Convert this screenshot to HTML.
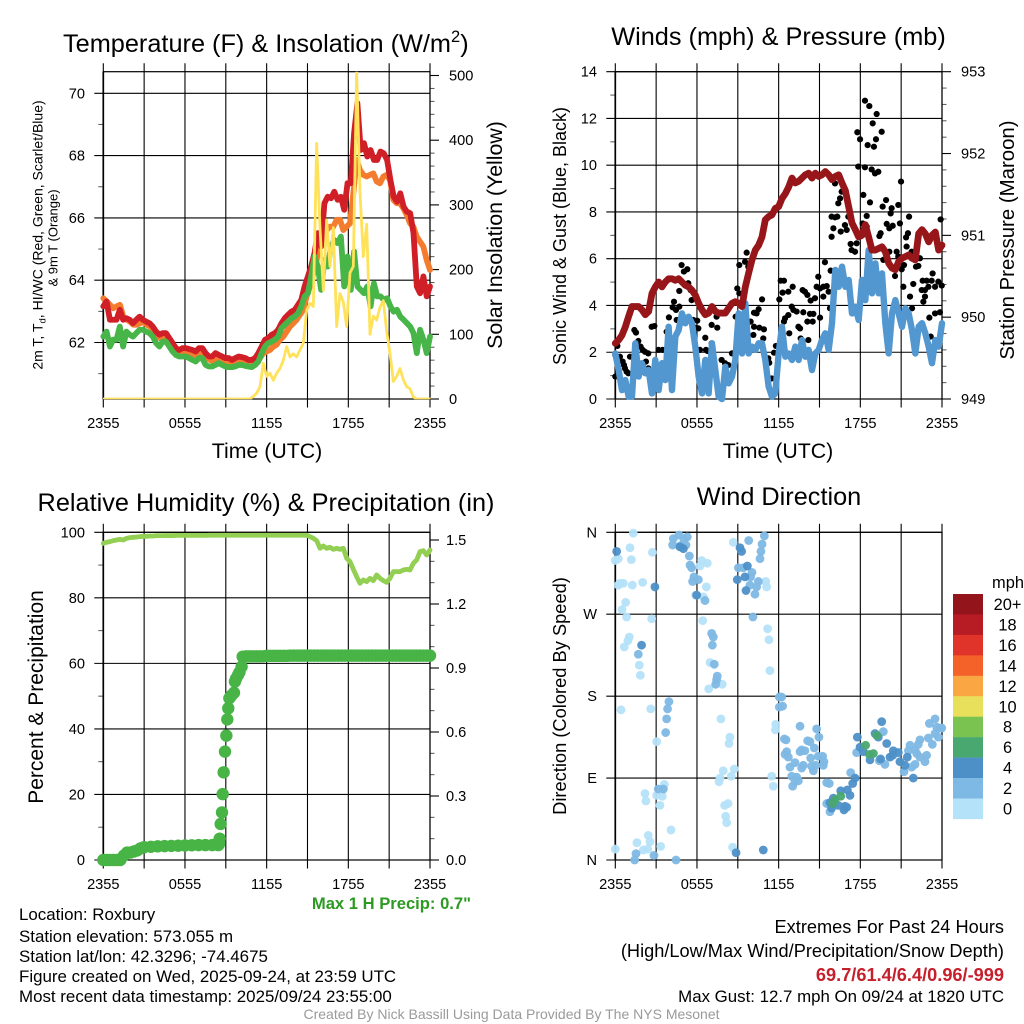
<!DOCTYPE html>
<html lang="en">
<head>
<meta charset="utf-8">
<title>Roxbury Mesonet Meteogram</title>
<style>
html,body{margin:0;padding:0;background:#fff;}
svg{display:block;font-family:"Liberation Sans",Arial,sans-serif;fill:#000;}
text{white-space:pre;}
</style>
</head>
<body>
<svg id="chart" xmlns="http://www.w3.org/2000/svg" width="1024" height="1024" viewBox="0 0 1024 1024">
<rect x="0" y="0" width="1024" height="1024" fill="#fff"/>
<defs>
<clipPath id="clip-temp"><rect x="103" y="71.7" width="327.5" height="327.5"/></clipPath>
</defs>
<g id="p1"></g>
<g id="p2"></g>
<g id="p3"></g>
<g id="p4"></g>
<g id="colorbar"></g>

<text x="63" y="52" font-size="25.3">Temperature (F) &amp; Insolation (W/m<tspan font-size="16.5" dy="-10">2</tspan><tspan dy="10">)</tspan></text>
<text x="778.5" y="45" font-size="25.3" text-anchor="middle">Winds (mph) &amp; Pressure (mb)</text>
<text x="266" y="511" font-size="25.3" text-anchor="middle">Relative Humidity (%) &amp; Precipitation (in)</text>
<text x="779" y="505" font-size="25.3" text-anchor="middle">Wind Direction</text>

<text x="267" y="458" font-size="21.3" text-anchor="middle">Time (UTC)</text>
<text x="778" y="458" font-size="21.3" text-anchor="middle">Time (UTC)</text>

<text transform="translate(42.5,235) rotate(-90)" font-size="14" text-anchor="middle">2m T, T<tspan font-size="9.5" dy="3">d</tspan><tspan dy="-3">, HI/WC (Red, Green, Scarlet/Blue)</tspan></text>
<text transform="translate(57.5,238) rotate(-90)" font-size="13" text-anchor="middle">&amp; 9m T (Orange)</text>
<text transform="translate(502,235) rotate(-90)" font-size="21.3" text-anchor="middle">Solar Insolation (Yellow)</text>
<text transform="translate(566,236) rotate(-90)" font-size="18" text-anchor="middle">Sonic Wind &amp; Gust (Blue, Black)</text>
<text transform="translate(1014,240) rotate(-90)" font-size="20.4" text-anchor="middle">Station Pressure (Maroon)</text>
<text transform="translate(43,697) rotate(-90)" font-size="21" text-anchor="middle">Percent &amp; Precipitation</text>
<text transform="translate(566,696) rotate(-90)" font-size="18.3" text-anchor="middle">Direction (Colored By Speed)</text>

<text x="471" y="909" font-size="16.6" font-weight="bold" fill="#2c9a22" text-anchor="end">Max 1 H Precip: 0.7"</text>

<text x="19" y="920" font-size="16.9">Location: Roxbury</text>
<text x="19" y="942" font-size="16.9">Station elevation: 573.055 m</text>
<text x="19" y="962" font-size="16.9">Station lat/lon: 42.3296; -74.4675</text>
<text x="19" y="982" font-size="16.9">Figure created on Wed, 2025-09-24, at 23:59 UTC</text>
<text x="19" y="1002" font-size="16.9">Most recent data timestamp: 2025/09/24 23:55:00</text>

<text x="1004" y="933" font-size="18.2" text-anchor="end">Extremes For Past 24 Hours</text>
<text x="1004" y="957" font-size="18.2" text-anchor="end">(High/Low/Max Wind/Precipitation/Snow Depth)</text>
<text x="1004" y="981" font-size="18.2" font-weight="bold" fill="#c5202c" text-anchor="end">69.7/61.4/6.4/0.96/-999</text>
<text x="1004" y="1002" font-size="16.85" text-anchor="end">Max Gust: 12.7 mph On 09/24 at 1820 UTC</text>
<text x="511.5" y="1019" font-size="14" fill="#9a9a9a" text-anchor="middle">Created By Nick Bassill Using Data Provided By The NYS Mesonet</text>
</svg>

<script>
/* ---------- shared axis data ---------- */
const timeGridHours = [0,3,6,9,12,15,18,21,24];
const timeTickHours = [0,6,12,18,24];
const timeTickLabels = ['2355','0555','1155','1755','2355'];

/* ---------- temperature panel ---------- */
const tempTicks = [62,64,66,68,70];
const tempMinorTicks = [61,63,65,67,69];
const solarTicks = [0,100,200,300,400,500];
const solarMinorTicks = [20,40,60,80,120,140,160,180,220,240,260,280,320,340,360,380,420,440,460,480];
const temp9m = [63.42,63.32,63.21,63.10,63.16,63.21,62.83,62.73,62.67,62.57,62.57,62.62,62.67,62.57,62.51,62.41,62.25,62.14,62.19,62.19,62.03,61.93,61.76,61.66,61.66,61.66,61.64,61.60,61.60,61.66,61.66,61.50,61.44,61.39,61.44,61.44,61.39,61.39,61.36,61.34,61.39,61.39,61.36,61.34,61.32,61.32,61.39,61.50,61.66,61.71,61.76,61.87,61.93,62.09,62.19,62.35,62.51,62.62,62.73,62.89,63.05,63.48,63.80,64.22,64.65,65.40,65.29,65.61,65.72,65.72,65.94,65.94,65.61,65.72,65.83,66.79,67.86,67.54,67.38,67.33,67.38,67.43,67.17,67.11,67.33,67.38,67.22,66.58,66.47,66.47,66.31,66.10,65.83,65.72,65.40,65.24,65.08,64.65,64.33];
const temp2m = [63.16,63.32,62.73,62.73,62.73,63.05,62.73,62.78,62.73,62.62,62.73,62.83,62.73,62.67,62.62,62.51,62.35,62.25,62.30,62.30,62.14,61.98,61.82,61.76,61.82,61.82,61.79,61.76,61.71,61.82,61.82,61.66,61.55,61.55,61.66,61.60,61.55,61.50,61.50,61.44,61.50,61.55,61.53,61.50,61.44,61.44,61.50,61.66,61.87,62.09,62.14,62.25,62.30,62.41,62.62,62.78,62.89,62.99,63.05,63.21,63.37,63.80,64.12,64.44,64.87,65.51,65.08,66.47,66.68,66.63,66.84,66.58,66.68,66.26,67.11,67.11,68.72,69.68,68.18,68.40,67.97,68.18,67.86,67.86,68.13,68.07,67.86,67.22,66.68,66.52,66.79,66.36,66.20,66.15,65.51,63.80,63.58,64.12,63.48,63.80];
const tempDewpoint = [62.19,62.35,61.87,62.09,62.09,62.51,61.87,62.35,62.25,62.19,62.30,62.41,62.41,62.35,62.30,62.19,61.98,61.87,62.03,62.03,61.87,61.71,61.60,61.55,61.55,61.55,61.50,61.44,61.39,61.50,61.50,61.28,61.23,61.23,61.28,61.34,61.28,61.23,61.21,61.21,61.23,61.28,61.28,61.25,61.23,61.21,61.28,61.39,61.66,61.87,61.98,62.03,62.09,62.19,62.46,62.57,62.67,62.78,62.83,62.94,63.16,63.48,63.58,64.12,64.76,64.44,63.69,64.65,64.44,65.08,65.29,65.19,65.40,63.80,64.76,63.69,64.92,63.80,63.69,63.58,63.80,63.16,63.90,63.48,63.48,63.37,63.42,63.16,62.99,63.05,62.83,62.73,62.62,62.51,62.30,61.66,62.41,62.09,61.66,62.19];
const solarWatts = [0,0,0,0,0,0,0,0,0,0,0,0,0,0,0,0,0,0,0,0,0,0,0,0,0,0,0,0,0,0,0,0,0,0,0,0,0,0,0,0,0,0,0,0,0,4,9,19,55,35,40,29,40,47,60,81,65,70,65,76,86,137,148,143,395,265,168,277,205,265,112,163,150,112,195,205,505,320,220,270,100,128,122,142,152,105,70,27,35,47,30,19,16,3,0,0,0,0,0];

/* ---------- winds panel ---------- */
const windTicks = [0,2,4,6,8,10,12,14];
const windMinorTicks = [1,3,5,7,9,11,13];
const pressureTicks = [949,950,951,952,953];
const pressureMinorTicks = [949.2,949.4,949.6,949.8,950.2,950.4,950.6,950.8,951.2,951.4,951.6,951.8,952.2,952.4,952.6,952.8];
const gustHours = [0,0.15,0,0.34,0.54,0.64,0.71,0.83,0.96,1.08,1.40,1.52,1.69,1.86,2.01,2.18,2.42,2.25,2.42,2.67,2.87,3.18,3.48,3.77,3.94,4.31,4.21,4.46,4.70,4.51,4.70,4.87,5.04,5.29,5.36,5.53,5.61,5.73,6.02,5.93,6.10,6.61,6.22,6.66,6.78,7.08,7.49,7.44,7.08,7.81,8.06,8.30,8.57,8.96,9.11,8.84,9.11,9.53,9.65,9.77,9.94,10.19,10.53,10.38,10.78,10.19,10.58,10.92,10.14,10.87,11.80,11.66,11.24,11.31,11.49,12.05,12.15,12.39,12.29,12.71,13.03,12.71,12.96,13.08,13.32,12.47,12.39,13.45,13.57,12.78,13.62,13.76,13.93,14.11,13.81,14.35,14.67,14.30,14.55,14.11,14.50,15.04,14.18,14.79,14.91,15.04,15.28,15.53,15.40,15.28,15.67,15.77,15.82,16.14,16.63,16.51,16.38,15.89,16.14,16.31,16.02,16.56,15.89,16.87,17.12,17.00,17.29,17.73,17.36,17.61,17.85,18.22,17.78,17.98,18.34,18.66,19.20,18.91,19.57,19.15,18.54,19.00,18.34,18.83,19.08,19.32,18.71,18.47,18.17,18.47,19.64,19.89,20.30,20.23,20.79,19.94,20.13,20.38,20.91,19.49,19.40,20.99,21.58,21.50,21.36,21.40,21.77,20.67,20.79,19.69,20.13,21.21,21.04,20.55,22.09,22.26,22.38,23.31,22.58,22.87,23.24,23.73,23.98,23.90,21.16,21.89,22.51,22.75,23.00,23.49,21.65,22.75,22.63,21.80,23.07,23.49,23.85,23.17];
const gustMph = [0.96,2.27,1.88,1.81,1.60,1.45,1.31,1.17,1.10,1.81,2.95,2.84,2.48,2.24,2.10,2.02,1.95,1.60,1.31,3.09,3.12,2.10,2.10,2.88,3.49,4.16,3.92,3.81,3.95,3.38,4.62,5.73,5.45,5.55,4.95,4.66,4.23,3.38,3.35,3.05,3.02,2.62,2.10,2.10,2.05,3.17,3.05,3.52,2.38,1.67,1.53,1.45,1.95,4.73,4.52,3.52,5.73,5.87,6.26,5.66,3.31,3.69,3.84,3.66,4.26,3.09,3.05,2.98,2.74,2.59,2.27,1.98,1.74,1.55,0.88,4.26,5.06,5.06,4.55,4.59,4.80,3.59,3.95,3.81,3.74,3.45,3.31,3.09,3.02,2.81,2.59,4.66,4.59,4.45,3.71,4.21,4.31,3.64,3.64,3.31,3.31,3.48,2.52,4.80,5.23,4.73,4.80,4.83,5.85,4.38,4.59,3.88,5.49,9.22,8.87,8.58,8.37,7.80,7.77,7.80,7.30,7.16,6.94,7.44,7.80,7.23,6.63,6.66,6.37,6.30,9.94,8.73,11.41,11.11,12.76,12.53,12.19,11.79,11.43,11.11,10.86,10.79,9.91,9.82,9.65,9.72,8.41,7.83,7.51,7.37,8.23,8.51,8.16,7.94,8.30,7.49,7.30,7.41,7.51,7.09,6.97,9.30,7.80,7.09,6.91,6.52,6.30,6.30,6.09,5.95,6.30,5.73,5.55,5.26,5.66,5.69,6.02,5.37,5.06,5.06,5.06,5.02,4.85,7.68,4.80,4.92,4.66,4.66,4.80,4.80,4.38,4.38,4.16,3.88,3.48,3.66,3.71,2.67];
const sonicWindMph = [1.95,1.24,0.38,0.81,0.10,0.10,2.38,0.96,1.53,1.10,1.24,0.24,1.67,0.38,1.53,0.81,3.09,0.38,2.67,2.95,3.66,3.24,3.52,3.24,2.24,0.96,0.24,1.67,0.24,2.38,1.24,0.10,0,1.38,0.67,0.96,1.67,3.66,1.95,4.09,1.95,2.24,2.10,2.38,2.38,1.67,0.53,0.10,0.24,1.95,3.09,1.81,1.95,1.67,2.24,1.67,2.52,1.81,2.10,1.24,1.95,2.10,2.52,2.81,2.10,3.24,5.52,4.80,5.66,4.80,5.09,3.66,3.95,3.38,5.09,4.23,6.37,4.52,5.80,4.52,5.37,3.24,1.95,3.66,4.23,3.66,3.09,3.88,3.66,2.95,1.95,3.09,3.24,2.81,2.24,1.53,2.52,2.24,3.24];
const pressureMb = [949.68,949.72,949.78,949.88,950.01,950.13,950.13,950.13,950.09,950.03,950.07,950.29,950.37,950.43,950.37,950.43,950.47,950.47,950.45,950.47,950.43,950.39,950.37,950.33,950.27,950.17,950.09,950.03,950.05,950.13,950.07,950.05,950.05,950.05,950.11,950.17,950.19,950.17,950.13,950.37,950.54,950.70,950.82,950.88,950.98,951.19,951.23,951.25,951.33,951.35,951.45,951.51,951.59,951.70,951.64,951.66,951.70,951.74,951.76,951.70,951.76,951.72,951.74,951.78,951.74,951.68,951.72,951.74,951.64,951.55,951.35,951.15,951.07,950.98,951.00,951.13,950.98,950.82,950.82,950.84,950.86,950.80,950.66,950.60,950.58,950.68,950.72,950.74,950.76,950.72,950.70,951.02,951.07,951.02,950.92,951.00,951.04,950.82,950.88];

/* ---------- humidity panel ---------- */
const percentTicks = [0,20,40,60,80,100];
const percentMinorTicks = [10,30,50,70,90];
const precipTicks = [0,0.3,0.6,0.9,1.2,1.5];
const precipTickLabels = ['0.0','0.3','0.6','0.9','1.2','1.5'];
const precipMinorTicks = [0.1,0.2,0.4,0.5,0.7,0.8,1.0,1.1,1.3,1.4];
const relativeHumidity = [96.64,96.95,97.15,97.46,97.66,97.86,97.66,98.17,98.37,98.47,98.57,98.68,98.78,98.78,98.88,98.88,98.98,98.98,98.98,99.0,99.0,99.0,99.05,99.05,99.05,99.05,99.05,99.05,99.05,99.05,99.05,99.05,99.09,99.09,99.09,99.09,99.09,99.09,99.09,99.09,99.09,99.09,99.09,99.09,99.09,99.09,99.09,99.09,99.09,99.09,99.09,99.09,99.09,99.09,99.09,99.09,99.09,99.09,99.09,99.09,99.09,99.09,98.68,98.17,97.46,95.12,95.83,95.12,95.42,94.81,95.12,94.81,95.12,92.06,91.05,88.71,86.47,84.44,85.45,84.95,85.96,85.25,86.98,85.96,85.25,84.74,85.96,87.99,87.99,87.99,88.50,88.71,88.50,90.53,91.55,94.09,94.40,93.07,94.60];
const precipHours = [0,0.25,0.5,0.75,1,1.25,1.5,1.75,2,2.25,2.5,2.75,3,3.5,4,4.5,5,5.5,6,6.5,7,7.5,8,8.45,8.5,8.55,8.62,8.72,8.77,8.84,8.94,9.04,9.11,9.18,9.26,9.4,9.6,9.67,9.75,9.9,10,10.16,10.24,10.5,10.75,11,11.25,11.5,11.75,12,12.25,12.5,12.75,13,13.25,13.5,13.75,14,14.25,14.5,14.75,15,15.25,15.5,15.75,16,16.25,16.5,16.75,17,17.25,17.5,17.75,18,18.25,18.5,18.75,19,19.25,19.5,19.75,20,20.25,20.5,20.75,21,21.25,21.5,21.75,22,22.25,22.5,22.75,23,23.25,23.5,23.75,24];
const precipInches = [0,0,0,0,0,0,0.02,0.035,0.035,0.04,0.045,0.055,0.06,0.062,0.064,0.065,0.066,0.067,0.068,0.069,0.07,0.07,0.07,0.07,0.075,0.10,0.169,0.223,0.309,0.411,0.508,0.583,0.659,0.711,0.758,0.77,0.784,0.836,0.85,0.867,0.88,0.906,0.953,0.955,0.955,0.955,0.955,0.955,0.955,0.957,0.957,0.957,0.957,0.957,0.957,0.957,0.958,0.958,0.958,0.958,0.958,0.958,0.958,0.958,0.958,0.958,0.958,0.958,0.958,0.958,0.958,0.958,0.958,0.958,0.958,0.958,0.958,0.958,0.958,0.958,0.958,0.958,0.958,0.958,0.958,0.958,0.958,0.958,0.958,0.958,0.958,0.958,0.958,0.958,0.958,0.958,0.958,0.958];

/* ---------- wind direction panel ---------- */
const directionTicks = [0,90,180,270,360];
const directionTickLabels = ['N','E','S','W','N'];
const dirHours = [1.32,1.08,2.72,0.22,0,1.18,0.34,0.22,0.59,1.25,2.01,0.76,0.49,0.83,2.67,1.03,0.93,0.66,1.76,1.84,0.42,2.60,3.04,3.60,3.45,3.04,2.18,2.25,3.28,4.09,2.42,2.55,1.59,2.06,2.38,3.33,0,6.34,6.22,6.76,6.69,5.90,6.47,6.42,6.96,6.86,7.86,7.76,8.67,8.42,8.35,8.74,7.93,8.52,7.69,7.62,8.28,8.03,8.11,8.18,8.62,11.05,11.12,11.19,11.29,11.36,11.78,11.76,11.49,11.61,
4.21,4.26,4.68,5.29,5.04,5.19,4.75,5.44,5.49,5.61,5.78,5.68,6.10,6.59,7.08,7.20,7.13,1.69,7.27,7.49,7.44,7.37,3.94,3.84,3.77,3.70,3.16,3.53,1.52,1.42,4.46,2.84,9.80,10.95,10.78,10.70,10.63,9.04,9.40,10.04,9.94,10.51,10.38,9.89,10.26,10.11,12.05,12.22,12.05,12.29,13.57,14.79,14.96,12.42,12.54,14.13,14.30,14.62,12.59,12.47,12.71,13.57,13.69,13.93,14.35,14.91,15.23,15.33,15.28,14.72,14.42,14.55,13.81,13.69,13.20,12.83,12.96,13.32,13.45,13.20,13.03,15.53,15.72,17.73,19.69,19.40,19.81,21.65,22.38,22.26,21.53,22.02,22.14,22.38,22.87,22.75,22.02,21.77,21.21,23.00,23.29,23.49,23.07,23.61,23.49,23.73,23.85,23.98,15.77,15.53,17.29,
0.10,2.91,5.00,4.75,5.98,9.16,9.28,8.96,9.53,9.70,9.60,10.87,8.87,1.93,19.57,19.08,19.32,17.78,19.94,17.98,18.22,18.71,19.49,20.42,20.18,20.38,20.79,21.45,20.91,21.28,21.89,17.61,17.44,16.56,17.05,17.24,16.87,17.00,16.80,16.02,16.38,15.89,15.77,
18.39,18.66,18.96,19.20,16.56,16.14,15.97];
const dirDegrees = [359,343,338,331,329,330,304,302,304,302,305,283,275,267,265,245,241,234,214,203,165,166,130,83,70,71,73,65,60,33,27,20,19,11,12,15,12,329,323,326,300,291,289,263,217,188,193,155,349,135,128,100,98,92,90,86,62,60,48,41,14,306,300,254,242,208,149,143,92,81,
346,353,357,355,352,346,345,334,324,321,311,306,308,285,249,245,236,226,215,202,198,193,174,166,155,140,78,78,7,0,0,5,351,356,347,339,331,321,321,316,311,306,300,302,292,267,179,179,168,169,147,144,135,133,132,131,130,123,119,116,113,119,121,120,112,114,114,108,104,104,103,98,104,101,107,102,92,91,87,86,81,85,84,118,141,109,105,126,132,127,120,121,117,113,115,108,105,102,97,134,127,155,150,146,139,135,145,145,53,62,96,
339,300,342,344,291,343,339,308,311,323,296,11,8,236,152,139,135,135,128,124,119,110,111,120,113,115,118,113,108,104,90,90,84,76,77,71,59,58,55,68,60,57,63,
126,116,117,137,70,66,62];
const dirSpeedMph = [1,1,1,1,1,1,1,1,1,1,1,1,1,1,1,1,1,1,1,1,1,1,1,1,1,1,1,1,1,1,1,1,1,1,1,1,1,1,1,1,1,1,1,1,1,1,1,1,1,1,1,1,1,1,1,1,1,1,1,1,1,1,1,1,1,1,1,1,1,1,
3,3,3,3,3,3,3,3,3,3,3,3,3,3,3,3,3,3,3,3,3,3,3,3,3,3,3,3,3,3,3,3,3,3,3,3,3,3,3,3,3,3,3,3,3,3,3,3,3,3,3,3,3,3,3,3,3,3,3,3,3,3,3,3,3,3,3,3,3,3,3,3,3,3,3,3,3,3,3,3,3,3,3,3,3,3,3,3,3,3,3,3,3,3,3,3,3,3,3,3,3,3,3,3,3,3,3,3,3,3,3,
5,5,5,5,5,5,5,5,5,5,5,5,5,5,5,5,5,5,5,5,5,5,5,5,5,5,5,5,5,5,5,5,5,5,5,5,5,5,5,5,5,5,5,
7,7,7,7,7,7,7];

/* ---------- colorbar ---------- */
const speedBinLabels = ['20+','18','16','14','12','10','8','6','4','2','0'];
const speedBinColors = ['#93151b','#b71c25','#e0332a','#f4622a','#faa743','#e8e05a','#7bc350','#49a86f','#4d90c8','#7eb8e4','#b4e2f9'];
function colorForSpeed(mph){
  const bin = Math.min(10, Math.floor(mph/2));
  return speedBinColors[10-bin];
}

const SVGNS = 'http://www.w3.org/2000/svg';
function el(tag, attrs, parent){
  const node = document.createElementNS(SVGNS, tag);
  for (const k in attrs) node.setAttribute(k, attrs[k]);
  parent.appendChild(node);
  return node;
}
function linear(d0,d1,r0,r1){ return v => r0 + (v-d0)/(d1-d0)*(r1-r0); }
function linePath(values, xf, yf){
  const n = values.length;
  return values.map((v,i)=> (i?'L':'M') + xf(i/(n-1)*24).toFixed(2) + ' ' + yf(v).toFixed(2)).join('');
}

function drawGrid(g, xf, top, bottom){
  timeGridHours.forEach(h=>{
    const line = el('line',{x1:xf(h),x2:xf(h),y1:top-8.5,y2:bottom+8.5,stroke:'#000','stroke-width':1.1},g);
    
    
  });
  timeTickHours.forEach((h,i)=>{
    const label = el('text',{x:xf(h),y:bottom+29,'font-size':14.6,'text-anchor':'middle'},g);
    label.textContent = timeTickLabels[i];
    
    
  });
}
function drawLeft(g, yf, left, right, ticks, labels, minors, labelX){
  ticks.forEach((t,i)=>{
    const line = el('line',{x1:left-9,x2:right,y1:yf(t),y2:yf(t),stroke:'#000','stroke-width':1.1},g);
    
    
    const label = el('text',{x:labelX,y:yf(t)+5,'font-size':14.6,'text-anchor':'end'},g);
    label.textContent = labels ? labels[i] : String(t);
    
    
  });
  minors.forEach(t=>{
    const line = el('line',{x1:left-5,x2:left,y1:yf(t),y2:yf(t),stroke:'#555','stroke-width':1},g);
    
    
  });
}
function drawRight(g, yf, right, ticks, labels, minors, labelX){
  ticks.forEach((t,i)=>{
    const line = el('line',{x1:right,x2:right+9,y1:yf(t),y2:yf(t),stroke:'#000','stroke-width':1.1},g);
    
    
    const label = el('text',{x:labelX,y:yf(t)+5,'font-size':14.6},g);
    label.textContent = labels ? labels[i] : String(t);
    
    
  });
  minors.forEach(t=>{
    const line = el('line',{x1:right,x2:right+4.5,y1:yf(t),y2:yf(t),stroke:'#555','stroke-width':1},g);
    
    
  });
}
function drawFrame(g, left, top, right, bottom){
  const frame = el('rect',{x:left,y:top,width:right-left,height:bottom-top,fill:'none',stroke:'#000','stroke-width':1.2},g);
  
  
  const spine = el('line',{x1:left,x2:left,y1:top,y2:bottom,stroke:'#000','stroke-width':1.7},g);
  
  
}
function drawLine(g, values, xf, yf, color, width, clip){
  const p = el('path',{d:linePath(values,xf,yf),fill:'none',stroke:color,'stroke-width':width,'stroke-linejoin':'round','stroke-linecap':'round'},g);
  if (clip) p.setAttribute('clip-path', clip);
  return p;
}

/* Panel 1 */
(function(){
  const g = document.getElementById('p1');
  const L=103.3,R=430,T=71.7,B=399;
  const xf = linear(0,24,L,R);
  const yT = linear(62,70,342.5,93.3);
  const yS = linear(0,500,B,75.5);
  drawGrid(g,xf,T,B);
  drawLeft(g,yT,L,R,tempTicks,null,tempMinorTicks,85);
  drawRight(g,yS,R,solarTicks,null,solarMinorTicks,449);
  drawFrame(g,L,T,R,B);
  const s1 = drawLine(g,temp9m,xf,yT,'#f47c2e',5.8);
  
  
  const s2 = drawLine(g,temp2m,xf,yT,'#d01f27',5.8);
  
  
  const s3 = drawLine(g,tempDewpoint,xf,yT,'#47b548',5.8);
  
  
  const s4 = drawLine(g,solarWatts,xf,yS,'#ffe25a',2.8,'url(#clip-temp)');
  
  
})();

/* Panel 2 */
(function(){
  const g = document.getElementById('p2');
  const L=615.3,R=942,T=71.7,B=399;
  const xf = linear(0,24,L,R);
  const yW = linear(0,14,B,T);
  const yP = linear(949,953,B,T);
  drawGrid(g,xf,T,B);
  drawLeft(g,yW,L,R,windTicks,null,windMinorTicks,597);
  drawRight(g,yP,R,pressureTicks,null,pressureMinorTicks,961);
  drawFrame(g,L,T,R,B);
  gustHours.forEach((h,i)=>{
    const dot = el('circle',{cx:xf(h),cy:yW(gustMph[i]),r:3.1,fill:'#000'},g);
    
    
  });
  const s1 = drawLine(g,sonicWindMph,xf,yW,'#5297d0',6.4);
  
  
  const s2 = drawLine(g,pressureMb,xf,yP,'#96161a',6.8);
  
  
})();

/* Panel 3 */
(function(){
  const g = document.getElementById('p3');
  const L=103.3,R=430,T=532.3,B=860;
  const xf = linear(0,24,L,R);
  const yH = linear(0,100,B,T);
  const yPr = linear(0,1.5,B,540);
  drawGrid(g,xf,T,B);
  drawLeft(g,yH,L,R,percentTicks,null,percentMinorTicks,85);
  drawRight(g,yPr,R,precipTicks,precipTickLabels,precipMinorTicks,446);
  drawFrame(g,L,T,R,B);
  const s1 = drawLine(g,relativeHumidity,xf,yH,'#92cf52',4.8);
  
  
  precipHours.forEach((h,i)=>{
    const dot = el('circle',{cx:xf(h),cy:yPr(precipInches[i]),r:6.2,fill:'#48b446'},g);
    
    
  });
})();

/* Panel 4 */
(function(){
  const g = document.getElementById('p4');
  const L=615.3,R=942,T=532.3,B=860;
  const xf = linear(0,24,L,R);
  const yD = linear(0,360,B,T);
  drawGrid(g,xf,T,B);
  drawLeft(g,yD,L,R,directionTicks,directionTickLabels,[],597);
  drawFrame(g,L,T,R,B);
  dirHours.forEach((h,i)=>{
    const dot = el('circle',{cx:xf(h),cy:yD(dirDegrees[i]),r:4.4,fill:colorForSpeed(dirSpeedMph[i]),opacity:0.95},g);
    
    
  });
})();

/* Colorbar */
(function(){
  const g = document.getElementById('colorbar');
  const x=953, top=594, h=20.45;
  const unit = el('text',{x:1008,y:588,'font-size':16.4,'text-anchor':'middle'},g);
  unit.textContent = 'mph';
  
  
  speedBinLabels.forEach((lab,i)=>{
    const box = el('rect',{x:x,y:top+i*h,width:30,height:h+0.2,fill:speedBinColors[i]},g);
    
    
    const t = el('text',{x:1007.5,y:top+i*h+16,'font-size':16.4,'text-anchor':'middle'},g);
    t.textContent = lab;
    
    
  });
})();
</script>
</body>
</html>
